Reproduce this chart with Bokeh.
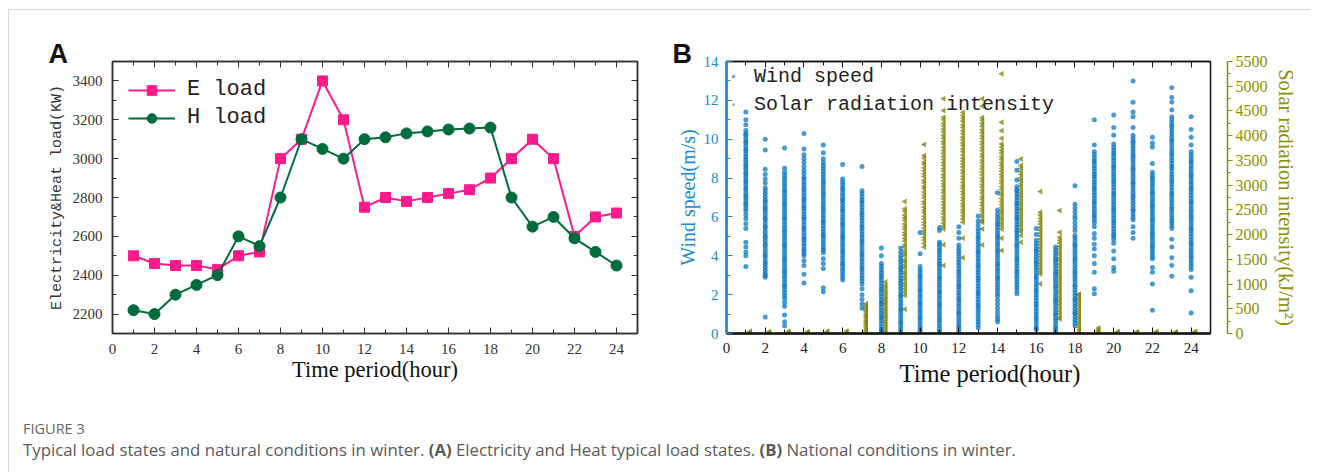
from bokeh.plotting import figure
from bokeh.models import (Range1d, LinearAxis, SingleIntervalTicker, FixedTicker, Legend,
                          LegendItem, Title, ColumnDataSource, CustomJSTickFormatter, Div)
from bokeh.layouts import row, column
from bokeh.transform import dodge
from bokeh.embed import file_html
from bokeh.resources import INLINE
import math

# ---------------- data: panel A ----------------
hours = list(range(1, 25))
e_load = [2500, 2460, 2450, 2450, 2430, 2500, 2520, 3000, 3100, 3400, 3200, 2750,
          2800, 2780, 2800, 2820, 2840, 2900, 3000, 3100, 3000, 2600, 2700, 2720]
h_load = [2220, 2200, 2300, 2350, 2400, 2600, 2550, 2800, 3100, 3050, 3000, 3100,
          3110, 3130, 3140, 3150, 3155, 3160, 2800, 2650, 2700, 2590, 2520, 2450]

# ---------------- data: panel B (wind speed, m/s) ----------------
wind_h01 = [11.4, 11.0, 10.75, 10.45, 10.3, 10.2, 10.05, 9.9, 9.8, 9.65, 9.5, 9.4, 9.25, 9.1, 9.0, 8.85, 8.7, 8.6, 8.45, 8.3, 8.2, 8.05, 7.9, 7.8, 7.65, 7.5, 7.4, 7.25, 7.1, 7.0, 6.85, 6.7, 6.6, 6.45, 6.3, 6.1, 5.9, 5.65, 5.4, 4.7, 4.45, 4.2, 4.0, 3.45]
wind_h02 = [10.0, 9.45, 8.45, 8.2, 7.95, 7.75, 7.5, 7.35, 7.2, 7.05, 6.9, 6.8, 6.65, 6.5, 6.4, 6.25, 6.1, 5.95, 5.85, 5.7, 5.55, 5.45, 5.3, 5.15, 5.0, 4.9, 4.75, 4.6, 4.5, 4.35, 4.2, 4.05, 3.95, 3.8, 3.65, 3.55, 3.4, 3.25, 3.1, 3.0, 2.9, 0.85]
wind_h03 = [9.55, 8.5, 8.3, 8.15, 8.0, 7.85, 7.7, 7.55, 7.4, 7.3, 7.15, 7.0, 6.85, 6.7, 6.6, 6.45, 6.3, 6.15, 6.0, 5.9, 5.75, 5.6, 5.45, 5.3, 5.2, 5.05, 4.9, 4.75, 4.6, 4.5, 4.35, 4.2, 4.05, 3.9, 3.8, 3.65, 3.5, 3.35, 3.2, 3.1, 2.95, 2.8, 2.65, 2.5, 2.4, 2.25, 2.1, 1.95, 1.8, 1.6, 1.4, 0.95, 0.6, 0.4]
wind_h04 = [10.3, 9.5, 9.2, 9.0, 8.8, 8.6, 8.4, 8.25, 8.05, 7.95, 7.8, 7.65, 7.5, 7.4, 7.25, 7.1, 6.95, 6.85, 6.7, 6.55, 6.45, 6.3, 6.15, 6.0, 5.9, 5.75, 5.6, 5.45, 5.35, 5.2, 5.05, 4.9, 4.8, 4.65, 4.5, 4.35, 4.25, 4.1, 4.0, 3.75, 3.5, 3.05, 2.6]
wind_h05 = [9.7, 9.3, 9.0, 8.8, 8.65, 8.5, 8.35, 8.2, 8.05, 7.9, 7.8, 7.65, 7.5, 7.35, 7.2, 7.1, 6.95, 6.8, 6.65, 6.5, 6.4, 6.25, 6.1, 5.95, 5.8, 5.7, 5.55, 5.4, 5.25, 5.1, 5.0, 4.85, 4.7, 4.55, 4.4, 4.3, 4.15, 3.85, 3.6, 3.35, 2.35, 2.15]
wind_h06 = [8.7, 7.95, 7.8, 7.65, 7.5, 7.4, 7.25, 7.1, 6.95, 6.85, 6.7, 6.55, 6.4, 6.3, 6.15, 6.0, 5.85, 5.7, 5.6, 5.45, 5.3, 5.15, 5.0, 4.9, 4.75, 4.6, 4.45, 4.3, 4.2, 4.05, 3.9, 3.75, 3.6, 3.5, 3.35, 3.2, 3.05, 2.9, 2.75]
wind_h07 = [8.6, 7.35, 7.2, 7.05, 6.9, 6.8, 6.65, 6.5, 6.35, 6.2, 6.1, 5.95, 5.8, 5.65, 5.5, 5.4, 5.25, 5.1, 4.95, 4.8, 4.7, 4.55, 4.4, 4.25, 4.1, 4.0, 3.85, 3.7, 3.55, 3.4, 3.3, 3.15, 3.0, 2.85, 2.7, 2.55, 2.3, 2.0, 1.75, 1.5, 1.3]
wind_h08 = [4.4, 4.0, 3.6, 3.45, 3.3, 3.15, 3.0, 2.9, 2.75, 2.6, 2.45, 2.3, 2.2, 2.05, 1.9, 1.75, 1.6, 1.5, 1.35, 1.2, 1.05, 0.9, 0.8, 0.65, 0.5, 0.35, 0.2, 0.1, 0.0]
wind_h09 = [4.4, 4.2, 4.0, 3.85, 3.7, 3.55, 3.4, 3.3, 3.15, 3.0, 2.85, 2.7, 2.6, 2.45, 2.3, 2.15, 2.0, 1.9, 1.75, 1.6, 1.45, 1.3, 1.2, 1.05, 0.9, 0.75, 0.6, 0.5, 0.35, 0.2, 0.05]
wind_h10 = [5.2, 4.1, 3.45, 3.3, 3.15, 3.0, 2.9, 2.75, 2.6, 2.45, 2.3, 2.2, 2.05, 1.9, 1.75, 1.6, 1.5, 1.35, 1.2, 1.05, 0.9, 0.8, 0.65, 0.5, 0.35, 0.2, 0.1, 0.0]
wind_h11 = [5.45, 5.3, 4.7, 4.6, 4.45, 4.3, 4.2, 4.05, 3.9, 3.75, 3.6, 3.5, 3.35, 3.2, 3.05, 2.9, 2.8, 2.65, 2.5, 2.35, 2.2, 2.1, 1.95, 1.8, 1.65, 1.5, 1.4, 1.25, 1.1, 0.95, 0.8, 0.7, 0.55, 0.4, 0.25, 0.1, 0.0]
wind_h12 = [5.5, 5.2, 4.9, 4.55, 4.4, 4.25, 4.1, 3.95, 3.8, 3.65, 3.5, 3.35, 3.2, 3.1, 2.95, 2.8, 2.65, 2.5, 2.4, 2.25, 2.1, 1.95, 1.8, 1.7, 1.55, 1.4, 1.25, 1.1, 1.0, 0.85, 0.7, 0.55, 0.4, 0.3, 0.15, 0.0]
wind_h13 = [6.05, 5.8, 5.6, 5.4, 5.25, 5.1, 4.95, 4.85, 4.7, 4.55, 4.4, 4.25, 4.15, 4.0, 3.85, 3.7, 3.55, 3.45, 3.3, 3.15, 3.0, 2.85, 2.75, 2.6, 2.45, 2.3, 2.15, 2.05, 1.9, 1.75, 1.6, 1.45, 1.35, 1.2, 1.05, 0.9, 0.75, 0.6, 0.45, 0.3]
wind_h14 = [7.25, 6.35, 6.15, 6.0, 5.85, 5.7, 5.6, 5.45, 5.3, 5.15, 5.0, 4.9, 4.75, 4.6, 4.45, 4.3, 4.2, 4.05, 3.9, 3.75, 3.6, 3.5, 3.35, 3.2, 3.05, 2.9, 2.8, 2.65, 2.5, 2.35, 2.2, 2.05, 1.9, 1.7, 1.5, 1.3, 1.1, 0.9, 0.75, 0.6]
wind_h15 = [8.85, 8.4, 7.9, 7.55, 7.4, 7.3, 7.15, 7.0, 6.85, 6.7, 6.6, 6.45, 6.3, 6.15, 6.0, 5.9, 5.75, 5.6, 5.45, 5.3, 5.2, 5.05, 4.9, 4.75, 4.6, 4.5, 4.35, 4.2, 4.05, 3.9, 3.8, 3.65, 3.5, 3.35, 3.2, 3.1, 2.95, 2.8, 2.65, 2.5, 2.35, 2.2, 2.05]
wind_h16 = [5.4, 5.1, 4.8, 4.65, 4.5, 4.35, 4.25, 4.1, 3.95, 3.8, 3.65, 3.55, 3.4, 3.25, 3.1, 2.95, 2.85, 2.7, 2.55, 2.4, 2.25, 2.15, 2.0, 1.85, 1.7, 1.55, 1.45, 1.3, 1.15, 1.0, 0.85, 0.75, 0.6, 0.45, 0.3, 0.2]
wind_h17 = [4.45, 4.3, 4.15, 4.0, 3.85, 3.75, 3.6, 3.45, 3.3, 3.15, 3.05, 2.9, 2.75, 2.6, 2.45, 2.35, 2.2, 2.05, 1.9, 1.75, 1.65, 1.5, 1.35, 1.2, 1.05, 0.95, 0.8, 0.65, 0.5, 0.35, 0.25, 0.1, 0.0]
wind_h18 = [7.6, 6.65, 6.45, 6.25, 6.05, 5.9, 5.7, 5.5, 5.3, 5.05, 4.9, 4.75, 4.6, 4.5, 4.35, 4.2, 4.05, 3.9, 3.8, 3.65, 3.5, 3.35, 3.2, 3.1, 2.95, 2.8, 2.65, 2.5, 2.4, 2.25, 2.1, 1.95, 1.8, 1.7, 1.55, 1.4, 1.25, 1.1, 1.0, 0.85, 0.7, 0.55, 0.4]
wind_h19 = [11.0, 9.7, 9.35, 9.2, 9.05, 8.9, 8.8, 8.65, 8.5, 8.35, 8.2, 8.1, 7.95, 7.8, 7.65, 7.5, 7.4, 7.25, 7.1, 6.95, 6.8, 6.7, 6.55, 6.4, 6.25, 6.1, 6.0, 5.85, 5.7, 5.5, 5.15, 4.9, 4.6, 4.35, 4.0, 3.6, 3.15, 2.3, 2.05]
wind_h20 = [11.25, 10.6, 10.2, 9.75, 9.6, 9.45, 9.3, 9.2, 9.05, 8.9, 8.75, 8.6, 8.5, 8.35, 8.2, 8.05, 7.9, 7.8, 7.65, 7.5, 7.35, 7.2, 7.1, 6.95, 6.8, 6.65, 6.5, 6.4, 6.25, 6.1, 5.95, 5.8, 5.7, 5.55, 5.4, 5.25, 5.1, 5.0, 4.85, 4.65, 4.25, 3.85, 3.4, 3.2]
wind_h21 = [13.0, 11.9, 11.4, 11.15, 10.6, 10.2, 10.05, 9.9, 9.8, 9.65, 9.5, 9.35, 9.2, 9.1, 8.95, 8.8, 8.65, 8.5, 8.4, 8.25, 8.1, 7.95, 7.8, 7.7, 7.55, 7.4, 7.25, 7.1, 7.0, 6.85, 6.7, 6.55, 6.4, 6.3, 6.15, 6.0, 5.85, 5.5, 5.2, 4.9]
wind_h22 = [10.1, 9.8, 9.6, 8.75, 8.3, 8.15, 8.0, 7.9, 7.75, 7.6, 7.45, 7.3, 7.2, 7.05, 6.9, 6.75, 6.6, 6.5, 6.35, 6.2, 6.05, 5.9, 5.8, 5.65, 5.5, 5.35, 5.2, 5.1, 4.95, 4.8, 4.65, 4.5, 4.4, 4.25, 4.1, 3.95, 3.85, 3.4, 3.15, 2.55, 1.2]
wind_h23 = [12.65, 12.15, 11.9, 11.5, 11.15, 11.0, 10.85, 10.7, 10.6, 10.45, 10.3, 10.15, 10.0, 9.9, 9.75, 9.6, 9.45, 9.3, 9.2, 9.05, 8.9, 8.75, 8.6, 8.5, 8.35, 8.2, 8.05, 7.9, 7.8, 7.65, 7.5, 7.35, 7.2, 7.1, 6.95, 6.8, 6.65, 6.5, 6.4, 6.25, 6.1, 5.95, 5.8, 5.7, 5.55, 5.4, 4.85, 4.45, 3.9, 3.5, 2.95]
wind_h24 = [11.15, 10.5, 10.1, 9.7, 9.35, 9.2, 9.05, 8.9, 8.8, 8.65, 8.5, 8.35, 8.2, 8.1, 7.95, 7.8, 7.65, 7.5, 7.4, 7.25, 7.1, 6.95, 6.8, 6.7, 6.55, 6.4, 6.25, 6.1, 6.0, 5.85, 5.7, 5.55, 5.4, 5.3, 5.15, 5.0, 4.85, 4.7, 4.6, 4.45, 4.3, 4.15, 4.0, 3.9, 3.75, 3.6, 3.45, 3.3, 2.9, 2.2, 1.05]

# ---------------- data: panel B (solar radiation, kJ/m2) ----------------
solar_h01 = [0, 20, 45]
solar_h02 = [0, 15, 40]
solar_h03 = [0, 20, 45]
solar_h04 = [0, 15, 40]
solar_h05 = [0, 20, 45]
solar_h06 = [0, 25, 50]
solar_h07 = [600, 555, 520, 475, 440, 395, 360, 320, 275, 240, 195, 160, 115, 80, 40, 0]
solar_h08 = [1040, 975, 925, 865, 820, 770, 715, 670, 615, 570, 515, 470, 420, 365, 320, 265, 220, 170, 120, 65, 20, 0]
solar_h09 = [2670, 2525, 2470, 2395, 2340, 2290, 2215, 2160, 2110, 2035, 1985, 1920, 1870, 1795, 1750, 1680, 1625, 1570, 1490, 1445, 1380, 1330, 1255, 1210, 1140, 1085, 1015, 965, 900, 835, 770, 490]
solar_h10 = [3820, 3600, 3545, 3470, 3420, 3350, 3290, 3230, 3175, 3100, 3050, 2980, 2930, 2860, 2800, 2745, 2670, 2620, 2555, 2490, 2440, 2370, 2315, 2250, 2195, 2130, 2070, 2010, 1945, 1890, 1820, 1750]
solar_h11 = [4745, 4510, 4375, 4320, 4250, 4195, 4130, 4075, 4005, 3950, 3880, 3830, 3760, 3700, 3645, 3580, 3520, 3460, 3400, 3330, 3280, 3210, 3155, 3090, 3030, 2970, 2905, 2850, 2780, 2725, 2660, 2600, 2540, 2475, 2420, 2350, 2295, 2230, 2170, 2115, 1795, 1375]
solar_h12 = [4475, 4410, 4345, 4290, 4220, 4165, 4100, 4040, 3975, 3920, 3850, 3800, 3730, 3675, 3610, 3545, 3490, 3425, 3365, 3300, 3245, 3180, 3120, 3055, 2995, 2935, 2870, 2815, 2750, 2690, 2625, 2570, 2500, 2445, 2380, 2320, 2250, 1925, 1530]
solar_h13 = [4745, 4600, 4370, 4310, 4245, 4190, 4120, 4065, 4000, 3945, 3875, 3820, 3755, 3700, 3630, 3575, 3510, 3455, 3385, 3330, 3265, 3205, 3140, 3085, 3020, 2960, 2895, 2840, 2770, 2715, 2650, 2595, 2530, 2470, 2405, 2350, 2285, 2250, 2115, 1790]
solar_h14 = [5250, 4270, 4100, 3950, 3830, 3770, 3705, 3650, 3580, 3525, 3460, 3400, 3340, 3280, 3215, 3160, 3095, 3040, 2970, 2915, 2850, 2795, 2730, 2670, 2610, 2550, 2485, 2430, 2365, 2305, 2240, 2180, 2115, 1925, 1680]
solar_h15 = [3530, 3395, 3340, 3270, 3215, 3150, 3095, 3030, 2975, 2910, 2850, 2790, 2730, 2665, 2610, 2545, 2490, 2425, 2370, 2305, 2245, 2185, 2120, 2060, 1980, 1845]
solar_h16 = [2870, 2450, 2395, 2330, 2270, 2215, 2150, 2090, 2030, 1970, 1910, 1850, 1790, 1730, 1670, 1610, 1550, 1490, 1430, 1370, 1310, 1255, 1205, 1005]
solar_h17 = [2485, 2045, 1945, 1885, 1830, 1765, 1710, 1645, 1590, 1525, 1470, 1405, 1350, 1285, 1230, 1170, 1110, 1050, 990, 930, 870, 815, 750, 695, 635, 575, 515, 455, 395, 330, 295]
solar_h18 = [800, 770, 720, 665, 610, 560, 500, 450, 395, 340, 290, 235, 180, 125, 75, 25, 0]
solar_h19 = [110, 75, 40, 10]
solar_h20 = [0, 20, 40]
solar_h21 = [0, 15, 35]
solar_h22 = [0, 20, 40]
solar_h23 = [0, 15, 35]
solar_h24 = [0, 20, 40]

caption_label = "FIGURE 3"

# ---------------- styles ----------------
E_COLOR = "#FF1A8C"
H_COLOR = "#006B3C"
WIND_COLOR = "#0A78C2"
WIND_AXIS = "#1A8AD0"
SOLAR_COLOR = "#7F7F00"
SOLAR_AXIS = "#8E8E00"
SERIF = "Liberation Serif"
MONO = "Liberation Mono"
NBSP = "\u00a0"

blank = CustomJSTickFormatter(code="return ''")


def style_axis(ax, color, label_size="15px"):
    ax.axis_line_color = color
    ax.major_tick_line_color = color
    ax.minor_tick_line_color = color
    ax.major_label_text_color = color
    ax.major_label_text_font = SERIF
    ax.major_label_text_font_size = label_size
    ax.axis_label_text_font_style = "normal"


def mirror_axis(ticker, color, **kw):
    return LinearAxis(ticker=ticker, formatter=blank, major_label_text_font_size="0px",
                      major_label_standoff=0, major_tick_in=6, major_tick_out=0,
                      minor_tick_in=4, minor_tick_out=0, axis_line_color=color, axis_line_width=1.5,
                      major_tick_line_color=color, minor_tick_line_color=color, **kw)


def panel_letter(text, offset):
    return Title(text=text, align="left", offset=offset, standoff=-14, vertical_align="bottom",
                 text_font="Liberation Sans", text_font_style="bold", text_font_size="27px",
                 text_color="#111111")


# ================= Panel A =================
pA = figure(width=651, height=380, x_range=Range1d(0, 25), y_range=Range1d(2100, 3500),
            output_backend="svg", toolbar_location=None,
            min_border_left=103, min_border_right=23, min_border_top=51, min_border_bottom=57)
pA.grid.visible = False
pA.outline_line_color = "#333333"
pA.outline_line_width = 1.5

xa = pA.xaxis[0]
xa.ticker = SingleIntervalTicker(interval=2, num_minor_ticks=2)
style_axis(xa, "#333333", "15px")
xa.axis_line_width = 1.5
xa.major_tick_in, xa.major_tick_out = 6, 0
xa.minor_tick_in, xa.minor_tick_out = 4, 0
xa.major_label_standoff = 10
xa.axis_label = "Time period(hour)"
xa.axis_label_text_font = SERIF
xa.axis_label_text_font_size = "22.5px"
xa.axis_label_text_color = "#111111"
xa.axis_label_standoff = 0

ya = pA.yaxis[0]
ya.ticker = SingleIntervalTicker(interval=200, num_minor_ticks=2)
style_axis(ya, "#333333", "15px")
ya.axis_line_width = 1.5
ya.major_tick_in, ya.major_tick_out = 6, 0
ya.minor_tick_in, ya.minor_tick_out = 4, 0
ya.major_label_standoff = 10
ya.axis_label = "Electricity&Heat load(KW)"
ya.axis_label_text_font = MONO
ya.axis_label_text_font_size = "15px"
ya.axis_label_text_color = "#333333"
ya.axis_label_standoff = 4

pA.add_layout(mirror_axis(SingleIntervalTicker(interval=2, num_minor_ticks=2), "#333333"), "above")
pA.add_layout(mirror_axis(SingleIntervalTicker(interval=200, num_minor_ticks=2), "#333333"), "right")
pA.add_layout(panel_letter("A", -64), "above")

srcA = ColumnDataSource(dict(hour=hours, e=e_load, h=h_load))
rEl = pA.line("hour", "e", source=srcA, line_color=E_COLOR, line_width=2)
rEp = pA.scatter("hour", "e", source=srcA, marker="square", size=10, fill_color=E_COLOR, line_color=E_COLOR)
rHl = pA.line("hour", "h", source=srcA, line_color=H_COLOR, line_width=2)
rHp = pA.scatter("hour", "h", source=srcA, marker="circle", size=11, fill_color=H_COLOR, line_color=H_COLOR)

legA = Legend(items=[LegendItem(label="E load", renderers=[rEl, rEp]),
                     LegendItem(label="H load", renderers=[rHl, rHp])],
              location="top_left", margin=16, padding=11, glyph_width=47, glyph_height=24,
              label_height=24, spacing=3, label_standoff=12,
              label_text_font=MONO, label_text_font_size="22px", label_text_color="#222222",
              background_fill_alpha=0, border_line_color=None)
pA.add_layout(legA)

# ================= Panel B =================
pB = figure(width=650, height=380, x_range=Range1d(0, 25), y_range=Range1d(0, 14),
            output_backend="svg", toolbar_location=None,
            min_border_left=66, min_border_right=100, min_border_top=51, min_border_bottom=57)
pB.grid.visible = False
pB.outline_line_color = "#111111"
pB.outline_line_width = 1.5
pB.extra_y_ranges = {"solar": Range1d(0, 5500)}

xb = pB.xaxis[0]
xb.ticker = SingleIntervalTicker(interval=2, num_minor_ticks=2)
style_axis(xb, "#111111", "15px")
xb.major_label_text_color = "#222222"
xb.axis_line_width = 2.5
xb.major_tick_in, xb.major_tick_out = 6, 0
xb.minor_tick_in, xb.minor_tick_out = 4, 0
xb.major_label_standoff = 9
xb.axis_label = NBSP * 7 + "Time period(hour)"
xb.axis_label_text_font = SERIF
xb.axis_label_text_font_size = "24.5px"
xb.axis_label_text_color = "#111111"
xb.axis_label_standoff = 4

yb = pB.yaxis[0]
yb.ticker = SingleIntervalTicker(interval=2, num_minor_ticks=2)
style_axis(yb, WIND_AXIS, "15px")
yb.axis_line_width = 2.5
yb.major_tick_in, yb.major_tick_out = 6, 0
yb.minor_tick_in, yb.minor_tick_out = 4, 0
yb.major_label_standoff = 8
yb.axis_label = "Wind speed(m/s)"
yb.axis_label_text_font = SERIF
yb.axis_label_text_font_size = "20px"
yb.axis_label_text_color = WIND_AXIS
yb.axis_label_standoff = 2

pB.add_layout(mirror_axis(SingleIntervalTicker(interval=2, num_minor_ticks=2), "#111111"), "above")
pB.add_layout(panel_letter("B", -54), "above")

spacer = LinearAxis(y_range_name="solar", ticker=FixedTicker(ticks=[2750], minor_ticks=[]), formatter=blank,
                    major_label_text_font_size="0px", axis_line_color=None, major_tick_in=0,
                    major_tick_out=17, minor_tick_out=0, major_tick_line_alpha=0,
                    major_label_standoff=0)
pB.add_layout(spacer, "right")

sol_ax = LinearAxis(y_range_name="solar", ticker=SingleIntervalTicker(interval=500, num_minor_ticks=2))
style_axis(sol_ax, SOLAR_AXIS, "16px")
sol_ax.axis_line_width = 1.5
sol_ax.major_tick_in, sol_ax.major_tick_out = 0, 5
sol_ax.minor_tick_in, sol_ax.minor_tick_out = 0, 3
sol_ax.major_label_standoff = 3
sol_ax.axis_label = "Solar radiation intensity(kJ/m²)"
sol_ax.axis_label_text_font = SERIF
sol_ax.axis_label_text_font_size = "20.5px"
sol_ax.axis_label_text_color = SOLAR_AXIS
sol_ax.axis_label_standoff = 4
pB.add_layout(sol_ax, "right")

wind_series = [wind_h01, wind_h02, wind_h03, wind_h04, wind_h05, wind_h06, wind_h07, wind_h08,
               wind_h09, wind_h10, wind_h11, wind_h12, wind_h13, wind_h14, wind_h15, wind_h16,
               wind_h17, wind_h18, wind_h19, wind_h20, wind_h21, wind_h22, wind_h23, wind_h24]
solar_series = [solar_h01, solar_h02, solar_h03, solar_h04, solar_h05, solar_h06, solar_h07, solar_h08,
                solar_h09, solar_h10, solar_h11, solar_h12, solar_h13, solar_h14, solar_h15, solar_h16,
                solar_h17, solar_h18, solar_h19, solar_h20, solar_h21, solar_h22, solar_h23, solar_h24]

wt, wv = [], []
for hr, vals in zip(hours, wind_series):
    wt += [hr] * len(vals)
    wv += vals
st, sv = [], []
for hr, vals in zip(hours, solar_series):
    st += [hr] * len(vals)
    sv += vals

wind_src = ColumnDataSource(dict(t=wt, v=wv))
solar_src = ColumnDataSource(dict(t=st, v=sv))

r_solar = pB.scatter(x=dodge("t", 0.22, range=pB.x_range), y="v", source=solar_src, y_range_name="solar",
                     marker="triangle", angle=math.pi / 2, size=6,
                     fill_color=SOLAR_COLOR, line_color=None, fill_alpha=0.75)
r_wind = pB.scatter(x="t", y="v", source=wind_src, marker="circle", size=5,
                    fill_color=WIND_COLOR, line_color=None, fill_alpha=0.75)

legB = Legend(items=[LegendItem(label="Wind speed", renderers=[r_wind]),
                     LegendItem(label="Solar radiation intensity", renderers=[r_solar])],
              location="top_left", margin=3, padding=4, glyph_width=8, glyph_height=24,
              label_height=24, spacing=4, label_standoff=17,
              label_text_font=MONO, label_text_font_size="20px", label_text_color="#222222",
              background_fill_alpha=0, border_line_color=None)
pB.add_layout(legB)

# ================= caption =================
cap = Div(text=(
    '<div style="font-family:\'Open Sans\', sans-serif; color:#666666; padding-left:9px;">'
    '<div style="font-size:14.5px; line-height:17px; padding-top:25px;">'
    + caption_label + '</div>'
    '<div style="font-size:16.8px; line-height:21px; padding-top:2px; color:#5a5a5a;">'
    'Typical load states and natural conditions in winter. <b>(A)</b> Electricity and Heat typical '
    'load states. <b>(B)</b> National conditions in winter.</div></div>'),
    width=1250, height=72)

layout = column(row(pA, pB), cap,
                styles={"margin-left": "8px", "margin-top": "9px",
                        "border-left": "1px solid #d6d6d6", "border-top": "1px solid #d6d6d6"})

with open("out.html", "w") as f:
    f.write(file_html(layout, INLINE))
